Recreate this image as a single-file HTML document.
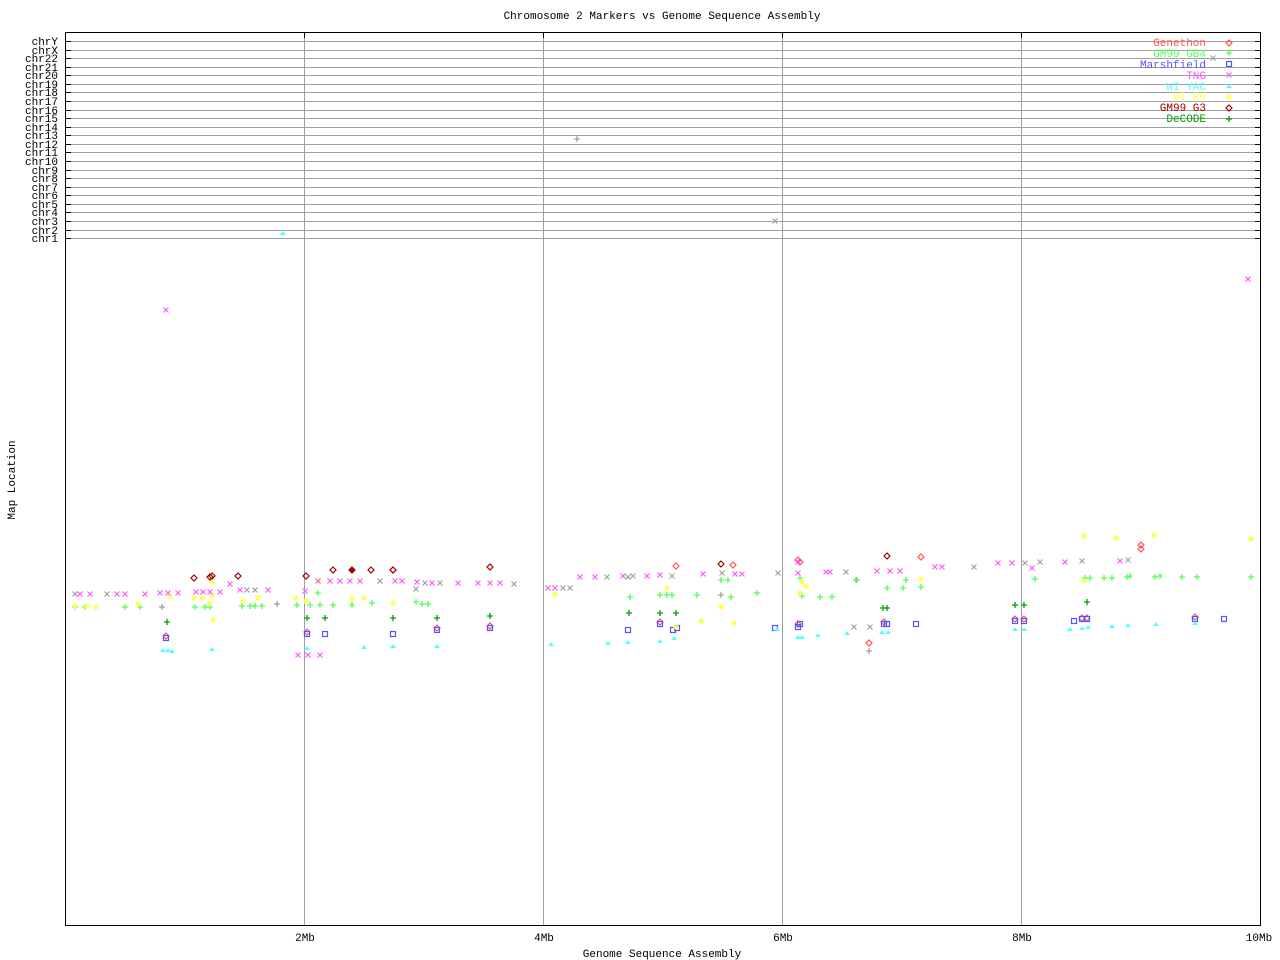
<!DOCTYPE html>
<html><head><meta charset="utf-8"><style>
html,body{margin:0;padding:0;background:#fff;}
svg{display:block;}
text{font-family:"Liberation Mono",monospace;font-size:11px;}
</style></head><body>
<svg id="s" width="1280" height="960" xmlns="http://www.w3.org/2000/svg">
<rect width="1280" height="960" fill="#fff"/>
<text x="662" y="19" text-anchor="middle">Chromosome 2 Markers vs Genome Sequence Assembly</text>
<text x="662" y="957" text-anchor="middle">Genome Sequence Assembly</text>
<text transform="translate(15,480) rotate(-90)" text-anchor="middle">Map Location</text>
<g id="grid" stroke="#a0a0a0" stroke-width="1"></g>
<rect x="65.5" y="32.5" width="1195" height="893" fill="none" stroke="#000"/>
<g id="ylab" text-anchor="end">
<text x="58" y="45">chrY</text><text x="58" y="54">chrX</text><text x="58" y="62">chr22</text><text x="58" y="71">chr21</text>
<text x="58" y="79">chr20</text><text x="58" y="88">chr19</text><text x="58" y="96">chr18</text><text x="58" y="105">chr17</text>
<text x="58" y="114">chr16</text><text x="58" y="122">chr15</text><text x="58" y="131">chr14</text><text x="58" y="139">chr13</text>
<text x="58" y="148">chr12</text><text x="58" y="156">chr11</text><text x="58" y="165">chr10</text><text x="58" y="174">chr9</text>
<text x="58" y="182">chr8</text><text x="58" y="191">chr7</text><text x="58" y="199">chr6</text><text x="58" y="208">chr5</text>
<text x="58" y="216">chr4</text><text x="58" y="225">chr3</text><text x="58" y="234">chr2</text><text x="58" y="242">chr1</text>
</g>
<g text-anchor="middle">
<text x="305" y="941">2Mb</text><text x="544" y="941">4Mb</text><text x="783" y="941">6Mb</text><text x="1022" y="941">8Mb</text><text x="1259" y="941">10Mb</text>
</g>
<g text-anchor="end">
<text x="1206" y="46" fill="#ff5555">Genethon</text>
<text x="1206" y="57" fill="#55ff55">GM99 GB4</text>
<text x="1206" y="68" fill="#5555ff">Marshfield</text>
<text x="1206" y="79" fill="#ff55ff">TNG</text>
<text x="1206" y="90" fill="#55ffff">WI YAC</text>
<text x="1206" y="100" fill="#ffff55">WI RH</text>
<text x="1206" y="111" fill="#a00000">GM99 G3</text>
<text x="1206" y="122" fill="#00a000">DeCODE</text>
</g>
<g id="pts"></g>
</svg>
<script>
var NS="http://www.w3.org/2000/svg";
var g=document.getElementById('grid'),p=document.getElementById('pts');
function el(par,t,a){var e=document.createElementNS(NS,t);for(var k in a)e.setAttribute(k,a[k]);par.appendChild(e);return e;}
for(var i=0;i<24;i++){var y=Math.round(41+i*8.57)+0.5;el(g,'line',{x1:66,x2:1260,y1:y,y2:y});
 el(g,'line',{x1:66,x2:71,y1:y,y2:y,stroke:'#000'});el(g,'line',{x1:1255,x2:1260,y1:y,y2:y,stroke:'#000'});}
[304,543,782,1021].forEach(function(x){el(g,'line',{x1:x+0.5,x2:x+0.5,y1:33,y2:925});el(g,'line',{x1:x+0.5,x2:x+0.5,y1:33,y2:38,stroke:'#000'});});
function X(x,y,c){el(p,'path',{d:'M'+(x-2.5)+' '+(y-2.5)+'l5 5M'+(x+2.5)+' '+(y-2.5)+'l-5 5',stroke:c,'stroke-width':1.2,fill:'none'});}
function P(x,y,c){el(p,'path',{d:'M'+(x-3)+' '+y+'h6M'+x+' '+(y-3)+'v6',stroke:c,'stroke-width':1.3,fill:'none'});}
function S(x,y,c){el(p,'rect',{x:x-2.5,y:y-2.5,width:5,height:5,stroke:c,fill:'none','stroke-width':1.2});}
function T(x,y,c){el(p,'path',{d:'M'+(x-3)+' '+(y+2)+'L'+x+' '+(y-2)+'L'+(x+3)+' '+(y+2)+'Z',fill:c});}
function St(x,y,c){el(p,'path',{d:'M'+(x-3)+' '+y+'h6M'+x+' '+(y-3)+'v6M'+(x-2)+' '+(y-2)+'l4 4M'+(x+2)+' '+(y-2)+'l-4 4',stroke:c,'stroke-width':1.2});}
function D(x,y,c,f){el(p,'path',{d:'M'+x+' '+(y-3)+'L'+(x+3)+' '+y+'L'+x+' '+(y+3)+'L'+(x-3)+' '+y+'Z',stroke:c,fill:f||'none','stroke-width':1.2});}
function each(a,f,c){for(var i=0;i<a.length;i+=2)f(a[i],a[i+1],c);}
each([166,636,307,632,393,570,437,628,490,626,676,566,733,565,800,562,798,560,884,622,921,557,1015,619,1082,618,1141,545,1141,549,1195,617,869,643,1024,619,660,622,1087,618,798,624],D,'#ff5555');
each([75,594,107,594,247,590,255,590,380,581,425,583,440,583,514,584,563,588,570,588,633,576,672,576,722,573,778,573,846,572,974,567,1025,563,1040,562,1082,561,1128,560,1213,58,775,221,854,627,870,627,416,589,607,577,628,577],X,'#a0a0a0');
each([577,139,277,604,721,595,856,580,869,651,162,607],P,'#a0a0a0');
each([75,607,85,607,125,607,140,607,195,607,205,607,210,607,242,606,250,606,255,606,262,606,297,605,310,605,318,593,320,605,333,605,352,605,372,603,416,602,422,604,428,604,630,597,660,595,667,595,672,595,697,595,721,580,731,597,802,596,820,597,832,597,857,580,887,588,903,588,906,580,921,587,1035,579,1085,578,1090,578,1104,578,1112,578,1127,577,1130,576,1155,577,1160,576,1182,577,1197,577,1251,577,757,593,728,580,800,578,1229,53],P,'#55ff55');
each([167,622,307,618,325,618,393,618,437,618,490,616,629,613,660,613,676,613,883,608,887,608,1015,605,1024,605,1087,602,1229,119],P,'#00a000');
each([166,638,307,634,325,634,393,634,437,630,490,628,628,630,660,624,673,630,677,628,775,628,798,627,800,624,884,624,887,624,916,624,1015,621,1024,621,1074,621,1082,619,1087,619,1195,619,1224,619,1229,64],S,'#5555ff');
each([283,233,163,650,168,650,172,651,212,649,307,648,364,647,393,646,437,646,551,644,608,643,628,642,660,641,674,638,777,629,798,637,802,637,818,635,847,633,882,632,888,632,1015,629,1024,629,1070,629,1082,628,1088,627,1112,626,1128,625,1156,624,1195,623,1229,86],T,'#55ffff');
each([75,606,87,606,96,607,138,604,170,597,194,598,202,598,210,603,212,595,212,582,213,620,243,601,258,598,296,598,306,601,319,581,352,599,364,598,393,603,555,594,667,588,676,627,701,621,721,607,734,623,800,593,802,582,806,586,921,579,1084,536,1116,538,1154,535,1251,539,1084,581,1229,97],St,'#ffff55');
each([80,594,90,594,117,594,125,594,145,594,160,593,168,593,178,593,196,592,203,592,210,592,220,592,240,590,268,590,305,591,318,581,330,581,340,581,350,581,360,581,395,581,402,581,417,582,432,583,458,583,478,583,490,583,500,583,548,588,555,588,580,577,595,577,623,576,647,576,660,575,703,574,735,574,742,574,798,573,826,572,830,572,877,571,890,571,900,571,935,567,942,567,998,563,1012,563,1065,562,1120,561,1248,279,166,310,298,655,308,655,320,655,230,584,1229,75,798,562,1032,568],X,'#ff55ff');
each([194,578,210,577,212,576,306,576,333,570,371,570,393,570,490,567,721,564,887,556,238,576,1229,108],D,'#a00000');
D(352,570,'#a00000','#a00000');D(1229,43,'#ff5555');
</script>
</body></html>
